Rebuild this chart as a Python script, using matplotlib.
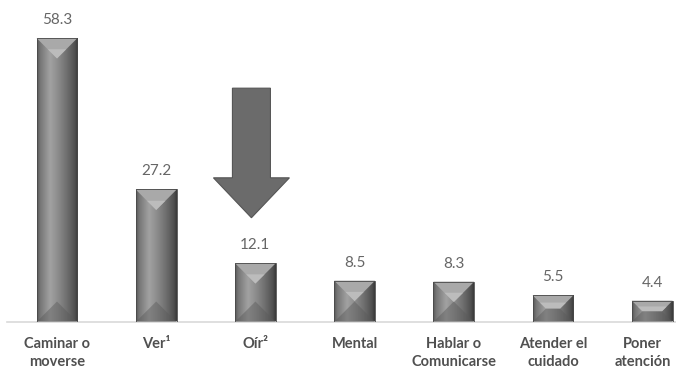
import matplotlib.pyplot as plt
import numpy as np
from matplotlib.colors import LinearSegmentedColormap
from matplotlib.patches import Polygon, FancyArrow

plt.rcParams['font.family'] = ['Lato', 'DejaVu Sans']

# Datos
categorias = ['Caminar o\nmoverse', 'Ver¹', 'Oír²', 'Mental',
              'Hablar o\nComunicarse', 'Atender el\ncuidado', 'Poner\natención']
valores = [58.3, 27.2, 12.1, 8.5, 8.3, 5.5, 4.4]
etiquetas = ['58.3', '27.2', '12.1', '8.5', '8.3', '5.5', '4.4']
destacado = 2  # la flecha apunta a "Oír"

fig = plt.figure(figsize=(6.76, 3.70), dpi=100)
ax = fig.add_axes([7.4 / 676, 48 / 370, (676 - 7.4) / 676, 322 / 370])
ax.set_xlim(-0.5, 6.24)
ax.set_ylim(0, 66.1)

x = np.arange(len(valores))
ancho = 0.413
barras = ax.bar(x, valores, width=ancho, color='none', edgecolor='none', zorder=2)

# degradado horizontal del cuerpo de la barra
cmap = LinearSegmentedColormap.from_list('bisel', [
    (0.0, '#555555'), (0.07, '#747474'), (0.32, '#a2a2a2'), (0.5, '#8e8e8e'),
    (0.75, '#6c6c6c'), (0.93, '#505050'), (1.0, '#383838')])
grad = np.linspace(0, 1, 256).reshape(1, -1)

# relación pixeles por unidad en x / y para el bisel a 45 grados
bb = ax.get_window_extent()
px_x = bb.width / (ax.get_xlim()[1] - ax.get_xlim()[0])
px_y = bb.height / (ax.get_ylim()[1] - ax.get_ylim()[0])

for b in barras:
    x0, w, h = b.get_x(), b.get_width(), b.get_height()
    im = ax.imshow(grad, cmap=cmap, aspect='auto', extent=[x0, x0 + w, 0, h],
                   zorder=2, interpolation='bicubic')
    im.set_clip_path(b)
    d_px = min(w * px_x / 2, h * px_y / 2)
    dx = d_px / px_x
    dy = d_px / px_y
    cx = x0 + w / 2
    # cara superior (clara)
    sup = [(x0, h), (x0 + w, h), (x0 + w - dx, h - dy), (x0 + dx, h - dy)]
    ax.add_patch(Polygon(sup, closed=True, facecolor='#a9a9a9', edgecolor='none', zorder=3))
    if dx < w / 2 - 1e-9:
        brillo = [(x0 + dx * 0.55, h - dy * 0.55), (x0 + w - dx * 0.55, h - dy * 0.55),
                  (x0 + w - dx, h - dy), (x0 + dx, h - dy)]
    else:
        brillo = [(cx - dx * 0.45, h - dy * 0.55), (cx + dx * 0.45, h - dy * 0.55), (cx, h - dy)]
    ax.add_patch(Polygon(brillo, closed=True, facecolor='#bcbcbc', edgecolor='none', zorder=3))
    # cara inferior (oscura, suave)
    inf = [(x0, 0), (x0 + w, 0), (x0 + w - dx, dy), (x0 + dx, dy)]
    ax.add_patch(Polygon(inf, closed=True, facecolor='#5a5a5a', edgecolor='none', zorder=3,
                         alpha=0.45))
    ax.add_patch(Polygon([(x0, 0), (x0 + w, 0), (x0 + w, h), (x0, h)], closed=True,
                         facecolor='none', edgecolor='#4a4a4a', linewidth=0.6, zorder=4))

# etiquetas de valor
for xi, v, t in zip(x, valores, etiquetas):
    ax.annotate(t, (xi, v), xytext=(0, 13), textcoords='offset points',
                ha='center', va='center', fontsize=11, color='#666666')

# etiquetas de categoría
desplaza = [0, 0, 0, 0, 0, 0, -7]
for xi, c, dxl in zip(x, categorias, desplaza):
    ax.annotate(c, (xi, 0), xytext=(dxl, -11), textcoords='offset points',
                ha='center', va='top', fontsize=10.5, fontweight='bold',
                color='#505050', linespacing=1.3)

# flecha
flecha = FancyArrow(destacado - 0.04, 48.0, 0, -26.6,
                    width=0.383, head_width=0.766, head_length=8.2,
                    length_includes_head=True, facecolor='#6b6b6b', edgecolor='#555555',
                    linewidth=0.8, zorder=5)
ax.add_patch(flecha)

for s in ['top', 'left', 'right']:
    ax.spines[s].set_visible(False)
ax.spines['bottom'].set_color('#d9d9d9')
ax.spines['bottom'].set_linewidth(1.2)
ax.set_xticks([])
ax.set_yticks([])

fig.savefig('out.png', dpi=100)
